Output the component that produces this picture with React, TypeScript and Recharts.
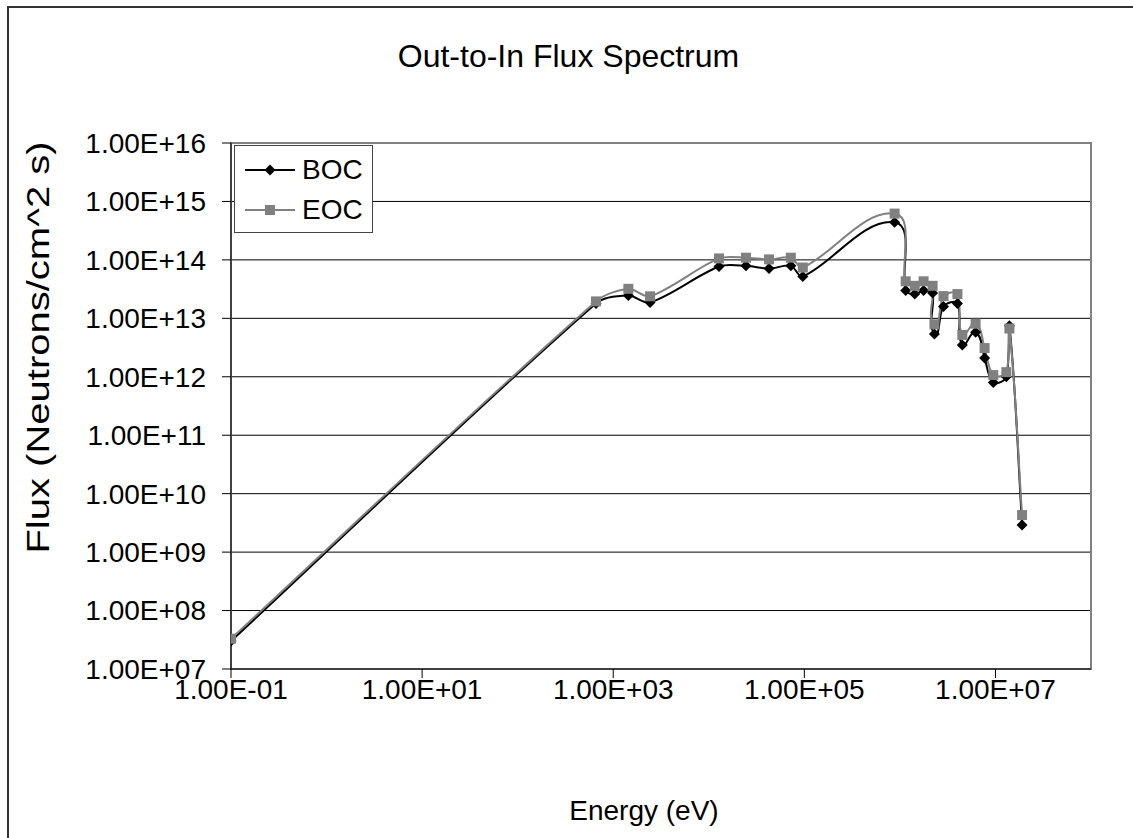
import React from 'react';
import {
  LineChart, Line, XAxis, YAxis, CartesianGrid, ReferenceArea,
} from 'recharts';

// energy groups (eV) and flux for both states
const energies = [
  0.1, 660, 1440, 2430, 12800, 24500, 42700, 72200, 96400, 8.8e5,
  1.15e6, 1.43e6, 1.77e6, 2.2e6, 2.3e6, 2.86e6, 4.0e6, 4.5e6, 6.2e6, 7.7e6,
  9.5e6, 1.3e7, 1.4e7, 1.9e7,
];
const bocFlux = [
  3.0e7, 1.8e13, 2.45e13, 1.87e13, 7.7e13, 7.9e13, 7.1e13, 7.9e13, 5.2e13, 4.4e14,
  3.0e13, 2.6e13, 3.0e13, 2.7e13, 5.4e12, 1.6e13, 1.8e13, 3.5e12, 5.8e12, 2.1e12,
  8.0e11, 1.0e12, 7.5e12, 2.9e9,
];
const eocFlux = [
  3.3e7, 1.95e13, 3.2e13, 2.38e13, 1.06e14, 1.09e14, 1.02e14, 1.09e14, 7.4e13, 6.2e14,
  4.3e13, 3.6e13, 4.3e13, 3.6e13, 7.9e12, 2.4e13, 2.6e13, 5.2e12, 8.1e12, 3.1e12,
  1.07e12, 1.2e12, 6.7e12, 4.3e9,
];
const xTicks = [0.1, 10, 1000, 1e5, 1e7];
const yTicks = [1e7, 1e8, 1e9, 1e10, 1e11, 1e12, 1e13, 1e14, 1e15, 1e16];

const data = energies.map((e, i) => ({ e, boc: bocFlux[i], eoc: eocFlux[i] }));

const FONT = '"Liberation Sans", Arial, sans-serif';

// Excel style 1.00E+16
const sci = (v: number) => {
  const [m, ex] = v.toExponential(2).split('e');
  return `${m}E${ex[0]}${ex.slice(1).padStart(2, '0')}`;
};

// smoothed line close to Excel's: tangent follows the neighbours,
// control arm scaled by the segment length so long spans stay straight
const smoothCurve = (context: any) => {
  let pts: number[][] = [];
  return {
    areaStart() {},
    areaEnd() {},
    lineStart() { pts = []; },
    point(x: number, y: number) { pts.push([+x, +y]); },
    lineEnd() {
      const n = pts.length;
      if (!n) return;
      const tan = pts.map((p, i) => {
        const a = pts[i - 1] || p;
        const b = pts[i + 1] || p;
        const dx = b[0] - a[0];
        const dy = b[1] - a[1];
        const len = Math.hypot(dx, dy) || 1;
        return [dx / len, dy / len];
      });
      context.moveTo(pts[0][0], pts[0][1]);
      for (let i = 0; i < n - 1; i++) {
        const p1 = pts[i];
        const p2 = pts[i + 1];
        const k = Math.hypot(p2[0] - p1[0], p2[1] - p1[1]) * 0.3;
        context.bezierCurveTo(
          p1[0] + tan[i][0] * k, p1[1] + tan[i][1] * k,
          p2[0] - tan[i + 1][0] * k, p2[1] - tan[i + 1][1] * k,
          p2[0], p2[1],
        );
      }
    },
  };
};

const Diamond = (props: any) => {
  const { cx, cy } = props;
  if (cx == null || cy == null) return null;
  const r = 5.5;
  return (
    <polygon
      points={`${cx},${cy - r} ${cx + r},${cy} ${cx},${cy + r} ${cx - r},${cy}`}
      fill="#000"
    />
  );
};

const Square = (props: any) => {
  const { cx, cy } = props;
  if (cx == null || cy == null) return null;
  return <rect x={cx - 5} y={cy - 5} width={10} height={10} fill="#808080" />;
};

const legendItems = [
  { name: 'BOC', color: '#000', diamond: true },
  { name: 'EOC', color: '#808080', diamond: false },
];

const LegendBox = () => (
  <div
    style={{
      position: 'absolute', left: 234, top: 145, width: 139, height: 88,
      border: '1px solid #444', background: '#fff', boxSizing: 'border-box',
      fontFamily: FONT, fontSize: 28, paddingLeft: 10, paddingTop: 4,
    }}
  >
    {legendItems.map((s) => (
      <div key={s.name} style={{ display: 'flex', alignItems: 'center', height: 40 }}>
        <svg width={50} height={14}>
          <line x1={0} y1={7} x2={50} y2={7} stroke={s.color} strokeWidth={2} />
          {s.diamond
            ? <polygon points="25,1.5 30.5,7 25,12.5 19.5,7" fill="#000" />
            : <rect x={20} y={2} width={10} height={10} fill="#808080" />}
        </svg>
        <span style={{ marginLeft: 7, color: '#000' }}>{s.name}</span>
      </div>
    ))}
  </div>
);

export default function App() {
  return (
    <div
      style={{
        position: 'absolute', left: 0, top: 0, width: 1133, height: 838,
        overflow: 'hidden', background: '#fff', fontFamily: FONT,
      }}
    >
      {/* outer chart frame, runs off the page on the right and bottom */}
      <div
        style={{
          position: 'absolute', left: 7, top: 6, width: 1200, height: 900,
          borderLeft: '2px solid #333', borderTop: '2px solid #333',
        }}
      />
      <div
        style={{
          position: 'absolute', left: 0, width: 1133, top: 38, textAlign: 'center',
          fontSize: 32, color: '#000', paddingLeft: 2,
        }}
      >
        Out-to-In Flux Spectrum
      </div>
      <div
        style={{
          position: 'absolute', left: 544, width: 200, top: 795, textAlign: 'center',
          fontSize: 28, color: '#000',
        }}
      >
        Energy (eV)
      </div>
      <div style={{ position: 'absolute', left: 38, top: 348, width: 0, height: 0 }}>
        <div
          style={{
            position: 'absolute', left: -300, top: -19, width: 600, textAlign: 'center',
            fontSize: 32, color: '#000', whiteSpace: 'nowrap',
            transform: 'rotate(-90deg) scale(1.25, 1)',
          }}
        >
          Flux (Neutrons/cm^2 s)
        </div>
      </div>
      <div style={{ position: 'absolute', left: 0, top: 0 }}>
        <LineChart
          width={1133}
          height={838}
          data={data}
          margin={{ top: 143, right: 42, bottom: 119, left: 60 }}
        >
          <CartesianGrid vertical={false} stroke="#000" strokeWidth={1} />
          <ReferenceArea
            x1={0.1} x2={1e8} y1={1e7} y2={1e16}
            fill="none" stroke="#808080" strokeWidth={2} ifOverflow="visible"
          />
          <XAxis
            dataKey="e"
            type="number"
            scale="log"
            domain={[0.1, 1e8]}
            ticks={xTicks}
            tickFormatter={sci}
            allowDataOverflow
            height={50}
            axisLine={{ stroke: '#000' }}
            tickLine={{ stroke: '#000' }}
            tickSize={9}
            tickMargin={1}
            tick={{ fill: '#000', fontSize: 28, fontFamily: FONT }}
          />
          <YAxis
            type="number"
            scale="log"
            domain={[1e7, 1e16]}
            ticks={yTicks}
            tickFormatter={sci}
            allowDataOverflow
            width={171}
            axisLine={{ stroke: '#000' }}
            tickLine={{ stroke: '#000' }}
            tickSize={9}
            tickMargin={16}
            tick={{ fill: '#000', fontSize: 28, fontFamily: FONT }}
          />
          <Line
            type={smoothCurve as any}
            dataKey="boc"
            name="BOC"
            stroke="#000"
            strokeWidth={2}
            dot={<Diamond />}
            activeDot={false}
            isAnimationActive={false}
          />
          <Line
            type={smoothCurve as any}
            dataKey="eoc"
            name="EOC"
            stroke="#808080"
            strokeWidth={2}
            dot={<Square />}
            activeDot={false}
            isAnimationActive={false}
          />
        </LineChart>
      </div>
      <LegendBox />
    </div>
  );
}
